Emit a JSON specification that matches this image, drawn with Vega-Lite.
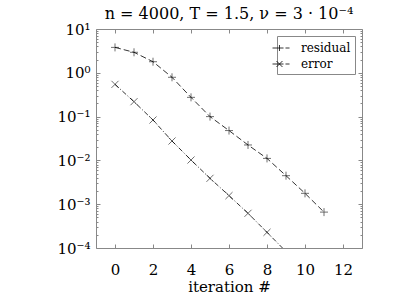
{
  "$schema": "https://vega.github.io/schema/vega-lite/v6.json",
  "width": 266,
  "height": 219,
  "autosize": {"type": "none"},
  "padding": {"left": 96, "top": 29, "right": 37, "bottom": 51},
  "title": {
    "text": "n = 4000, T = 1.5, ν = 3 · 10⁻⁴",
    "font": "DejaVu Serif",
    "fontSize": 16,
    "fontWeight": "normal",
    "color": "black",
    "baseline": "bottom",
    "offset": -16
  },
  "config": {
    "view": {"stroke": null},
    "axis": {
      "grid": false,
      "domainColor": "#888888",
      "tickColor": "#888888",
      "labelFont": "DejaVu Serif",
      "labelFontSize": 15,
      "labelColor": "black",
      "titleFont": "DejaVu Serif",
      "titleFontSize": 15,
      "titleFontWeight": "normal",
      "titleColor": "black"
    },
    "legend": {
      "labelFont": "DejaVu Serif",
      "labelFontSize": 12,
      "labelColor": "black"
    }
  },
  "data": {
    "values": [
      {"iter": 0, "series": "residual", "value": 3.8},
      {"iter": 1, "series": "residual", "value": 2.94},
      {"iter": 2, "series": "residual", "value": 1.79},
      {"iter": 3, "series": "residual", "value": 0.79},
      {"iter": 4, "series": "residual", "value": 0.275},
      {"iter": 5, "series": "residual", "value": 0.1},
      {"iter": 6, "series": "residual", "value": 0.048},
      {"iter": 7, "series": "residual", "value": 0.0225},
      {"iter": 8, "series": "residual", "value": 0.0111},
      {"iter": 9, "series": "residual", "value": 0.00448},
      {"iter": 10, "series": "residual", "value": 0.00177},
      {"iter": 11, "series": "residual", "value": 0.00066},
      {"iter": 0, "series": "error", "value": 0.545},
      {"iter": 1, "series": "error", "value": 0.219},
      {"iter": 2, "series": "error", "value": 0.0836},
      {"iter": 3, "series": "error", "value": 0.0277},
      {"iter": 4, "series": "error", "value": 0.0102},
      {"iter": 5, "series": "error", "value": 0.0039},
      {"iter": 6, "series": "error", "value": 0.00157},
      {"iter": 7, "series": "error", "value": 0.00062},
      {"iter": 8, "series": "error", "value": 0.000228},
      {"iter": 9, "series": "error", "value": 0.000083}
    ]
  },
  "layer": [
    {
      "transform": [{"filter": "datum.series === 'residual'"}],
      "encoding": {
        "x": {
          "field": "iter", "type": "quantitative",
          "scale": {"domain": [-1, 13], "nice": false, "zero": false},
          "axis": {
            "orient": "bottom",
            "values": [0, 2, 4, 6, 8, 10, 12],
            "tickSize": -4,
            "labelPadding": 18,
            "title": "iteration #",
            "titlePadding": 2
          }
        },
        "y": {
          "field": "value", "type": "quantitative",
          "scale": {"type": "log", "domain": [0.0001, 10], "nice": false},
          "axis": {
            "orient": "left",
            "title": null,
            "values": [0.0001,0.0002,0.0003,0.0004,0.0005,0.0006,0.0007,0.0008,0.0009,0.001,0.002,0.003,0.004,0.005,0.006,0.007,0.008,0.009,0.01,0.02,0.03,0.04,0.05,0.06,0.07,0.08,0.09,0.1,0.2,0.3,0.4,0.5,0.6,0.7,0.8,0.9,1,2,3,4,5,6,7,8,9,10],
            "tickSize": {"condition": {"test": "abs(log(datum.value)/LN10 - round(log(datum.value)/LN10)) < 0.001", "value": -4}, "value": -2},
            "labelPadding": 10,
            "labelExpr": "abs(log(datum.value)/LN10 - round(log(datum.value)/LN10)) < 0.001 ? ('10' + (round(log(datum.value)/LN10) == 1 ? '¹' : round(log(datum.value)/LN10) == 0 ? '⁰' : round(log(datum.value)/LN10) == -1 ? '⁻¹' : round(log(datum.value)/LN10) == -2 ? '⁻²' : round(log(datum.value)/LN10) == -3 ? '⁻³' : '⁻⁴')) : ''"
          }
        }
      },
      "layer": [
        {
          "mark": {"type": "line", "strokeDash": [6, 3], "strokeWidth": 0.8, "clip": true},
          "encoding": {
            "color": {
              "field": "series", "type": "nominal",
              "scale": {"domain": ["residual", "error"], "range": ["black", "black"]},
              "legend": {
                "title": null,
                "orient": "top-right",
                "offset": 7,
                "padding": 4,
                "strokeColor": "#888888",
                "fillColor": "white",
                "symbolSize": 225,
                "rowPadding": 2,
                "labelOffset": 4,
                "encode": {
                  "symbols": {
                    "update": {
                      "shape": {"signal": "datum.value === 'residual' ? 'M-2.2,0H-0.73M-1.27,-0.4V0.4M-0.47,0H0.07' : 'M-2.2,0H-0.73M-1.67,-0.4L-0.87,0.4M-1.67,0.4L-0.87,-0.4M-0.47,0H0.07'"},
                      "strokeDash": {"value": []},
                      "fill": {"value": "transparent"},
                      "stroke": {"value": "black"},
                      "strokeWidth": {"value": 0.8}
                    }
                  }
                }
              }
            }
          }
        },
        {
          "mark": {"type": "point", "shape": "M-1,0H1M0,-1V1", "size": 64, "filled": false, "color": "black", "strokeWidth": 0.8, "clip": true}
        }
      ]
    },
    {
      "transform": [{"filter": "datum.series === 'error'"}],
      "encoding": {
        "x": {
          "field": "iter", "type": "quantitative",
          "scale": {"domain": [-1, 13], "nice": false, "zero": false},
          "axis": {
            "orient": "top",
            "values": [0, 2, 4, 6, 8, 10, 12],
            "tickSize": -4,
            "labels": false,
            "title": null
          }
        },
        "y": {
          "field": "value", "type": "quantitative",
          "scale": {"type": "log", "domain": [0.0001, 10], "nice": false},
          "axis": {
            "orient": "right",
            "title": null,
            "labels": false,
            "values": [0.0001,0.0002,0.0003,0.0004,0.0005,0.0006,0.0007,0.0008,0.0009,0.001,0.002,0.003,0.004,0.005,0.006,0.007,0.008,0.009,0.01,0.02,0.03,0.04,0.05,0.06,0.07,0.08,0.09,0.1,0.2,0.3,0.4,0.5,0.6,0.7,0.8,0.9,1,2,3,4,5,6,7,8,9,10],
            "tickSize": {"condition": {"test": "abs(log(datum.value)/LN10 - round(log(datum.value)/LN10)) < 0.001", "value": -4}, "value": -2}
          }
        }
      },
      "layer": [
        {
          "mark": {"type": "line", "strokeDash": [5, 2, 1, 2], "strokeWidth": 0.8, "clip": true},
          "encoding": {
            "color": {"field": "series", "type": "nominal"}
          }
        },
        {
          "mark": {"type": "point", "shape": "M-1,-1L1,1M-1,1L1,-1", "size": 50, "filled": false, "color": "black", "strokeWidth": 0.8, "clip": true}
        }
      ]
    }
  ],
  "resolve": {"scale": {"x": "independent", "y": "independent"}}
}
